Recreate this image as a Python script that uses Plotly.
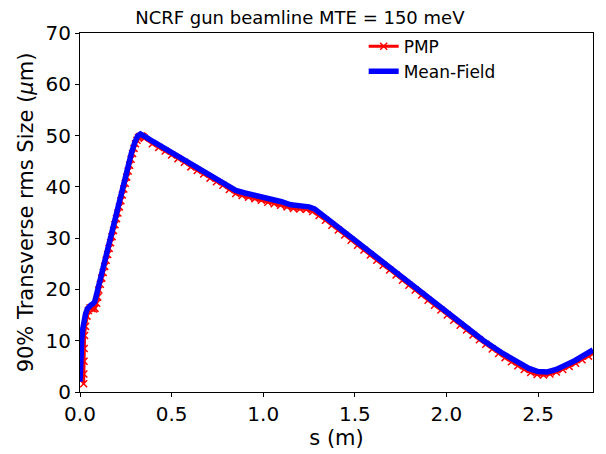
import plotly.graph_objects as go

# Mean-Field (blue) curve
mf_s = [0.000, 0.002, 0.005, 0.010, 0.015, 0.020, 0.030, 0.040, 0.050, 0.060,
        0.070, 0.080, 0.090, 0.100, 0.150, 0.200, 0.250, 0.280, 0.300, 0.315,
        0.330, 0.345, 0.360, 0.400, 0.500, 0.600, 0.700, 0.800, 0.850, 0.900,
        1.000, 1.100, 1.150, 1.200, 1.250, 1.280, 1.300, 1.400, 1.500, 1.600,
        1.700, 1.800, 1.900, 2.000, 2.100, 2.200, 2.300, 2.400, 2.450, 2.500,
        2.550, 2.600, 2.700, 2.800]
mf_v = [2.0, 5.0, 8.0, 10.5, 12.3, 13.6, 15.2, 16.2, 16.8, 17.0,
        17.2, 17.6, 19.0, 20.5, 27.8, 35.0, 42.3, 46.5, 48.8, 49.9,
        50.3, 50.1, 49.7, 48.8, 46.7, 44.6, 42.5, 40.4, 39.3, 38.8,
        38.0, 37.1, 36.5, 36.3, 36.1, 35.7, 35.1, 32.4, 29.6, 26.8,
        24.0, 21.2, 18.4, 15.6, 12.8, 10.1, 7.7, 5.6, 4.6, 4.0,
        3.9, 4.4, 6.1, 8.2]

# PMP (red, x markers)
pmp_s = [0.020, 0.021, 0.022, 0.023, 0.025, 0.030, 0.038, 0.046, 0.055, 0.064,
         0.073, 0.082, 0.091, 0.097, 0.103, 0.111, 0.119, 0.127, 0.135, 0.143,
         0.151, 0.159, 0.167, 0.175, 0.183, 0.191, 0.199, 0.207, 0.215, 0.223,
         0.231, 0.239, 0.247, 0.255, 0.263, 0.271, 0.279, 0.287, 0.295, 0.303,
         0.311, 0.319, 0.327, 0.335, 0.343, 0.351,
         0.395, 0.430, 0.465, 0.500, 0.535, 0.570, 0.605, 0.640, 0.675, 0.710,
         0.745, 0.780, 0.815, 0.850, 0.885, 0.920, 0.955, 0.990, 1.025, 1.060,
         1.095, 1.130, 1.165, 1.200, 1.235, 1.270, 1.305, 1.340, 1.375, 1.410,
         1.445, 1.480, 1.515, 1.550, 1.585, 1.620, 1.655, 1.690, 1.725, 1.760,
         1.795, 1.830, 1.865, 1.900, 1.935, 1.970, 2.005, 2.040, 2.075, 2.110,
         2.145, 2.180, 2.215, 2.250, 2.285, 2.320, 2.355, 2.390, 2.425, 2.460,
         2.495, 2.530, 2.565, 2.600, 2.635, 2.670, 2.705, 2.740, 2.775, 2.800]
pmp_v = [1.6, 3.5, 6.0, 8.5, 11.0, 12.8, 14.8, 15.9, 16.4, 16.3,
         16.2, 16.3, 17.3, 18.5, 19.9, 21.0, 22.2, 23.3, 24.5, 25.7,
         26.8, 28.0, 29.1, 30.3, 31.5, 32.6, 33.8, 34.9, 36.1, 37.3,
         38.4, 39.6, 40.7, 41.9, 43.1, 44.2, 45.4, 46.5, 47.5, 48.4,
         49.1, 49.6, 49.8, 49.9, 49.8, 49.5,
         48.4, 47.7, 47.0, 46.2, 45.5, 44.8, 43.9, 43.2, 42.5, 41.7,
         41.0, 40.3, 39.5, 38.7, 38.3, 38.0, 37.7, 37.4, 37.0, 36.7,
         36.4, 36.1, 35.8, 35.7, 35.6, 35.2, 34.4, 33.5, 32.5, 31.6,
         30.6, 29.6, 28.6, 27.7, 26.7, 25.7, 24.7, 23.8, 22.8, 21.8,
         20.8, 19.9, 18.9, 17.9, 16.9, 16.0, 15.0, 14.0, 13.0, 12.1,
         11.1, 10.2, 9.3, 8.4, 7.5, 6.7, 5.9, 5.1, 4.4, 3.8,
         3.4, 3.3, 3.5, 3.9, 4.4, 5.0, 5.6, 6.3, 7.0, 7.5]

x_ticks = [0.0, 0.5, 1.0, 1.5, 2.0, 2.5]
y_ticks = [0, 10, 20, 30, 40, 50, 60, 70]

FONT = "DejaVu Sans"

fig = go.Figure()
fig.add_trace(go.Scatter(
    x=pmp_s, y=pmp_v, name="PMP", mode="lines+markers",
    line=dict(color="red", width=3),
    marker=dict(symbol="x-thin", size=7, line=dict(color="red", width=1.5)),
))
fig.add_trace(go.Scatter(
    x=mf_s, y=mf_v, name="Mean-Field", mode="lines",
    line=dict(color="blue", width=5.5),
))

axis_common = dict(
    showgrid=False, zeroline=False, showline=True, linecolor="black",
    linewidth=1, mirror=True, ticks="outside", ticklen=4, tickwidth=1,
    tickcolor="black", tickfont=dict(family=FONT, size=20, color="black"),
    automargin=False,
)

# the page body adds an 8px offset, so the figure is sized to fit after it
fig.update_layout(
    width=598, height=446,
    margin=dict(l=72, r=13, t=25, b=62),
    paper_bgcolor="white", plot_bgcolor="white",
    title=dict(text="NCRF gun beamline MTE = 150 meV", x=0.488, xref="container",
               xanchor="center", y=0.979, yref="container", yanchor="middle",
               automargin=False,
               font=dict(family=FONT, size=18, color="black")),
    xaxis=dict(range=[0, 2.8], tickvals=x_ticks,
               ticktext=[f"{v:.1f}" for v in x_ticks],
               title=dict(text="s (m)", font=dict(family=FONT, size=21, color="black"), standoff=1),
               **axis_common),
    yaxis=dict(range=[0, 70], tickvals=y_ticks,
               ticktext=[str(v) for v in y_ticks],
               title=dict(text="90% Transverse rms Size (<i>μ</i>m)", font=dict(family=FONT, size=21, color="black"), standoff=6),
               **axis_common),
    legend=dict(x=0.553, y=1.012, xanchor="left", yanchor="top",
                bgcolor="rgba(255,255,255,0)", borderwidth=0,
                font=dict(family=FONT, size=17, color="black"),
                tracegroupgap=0),
    showlegend=True,
)

fig.write_html("out.html")
